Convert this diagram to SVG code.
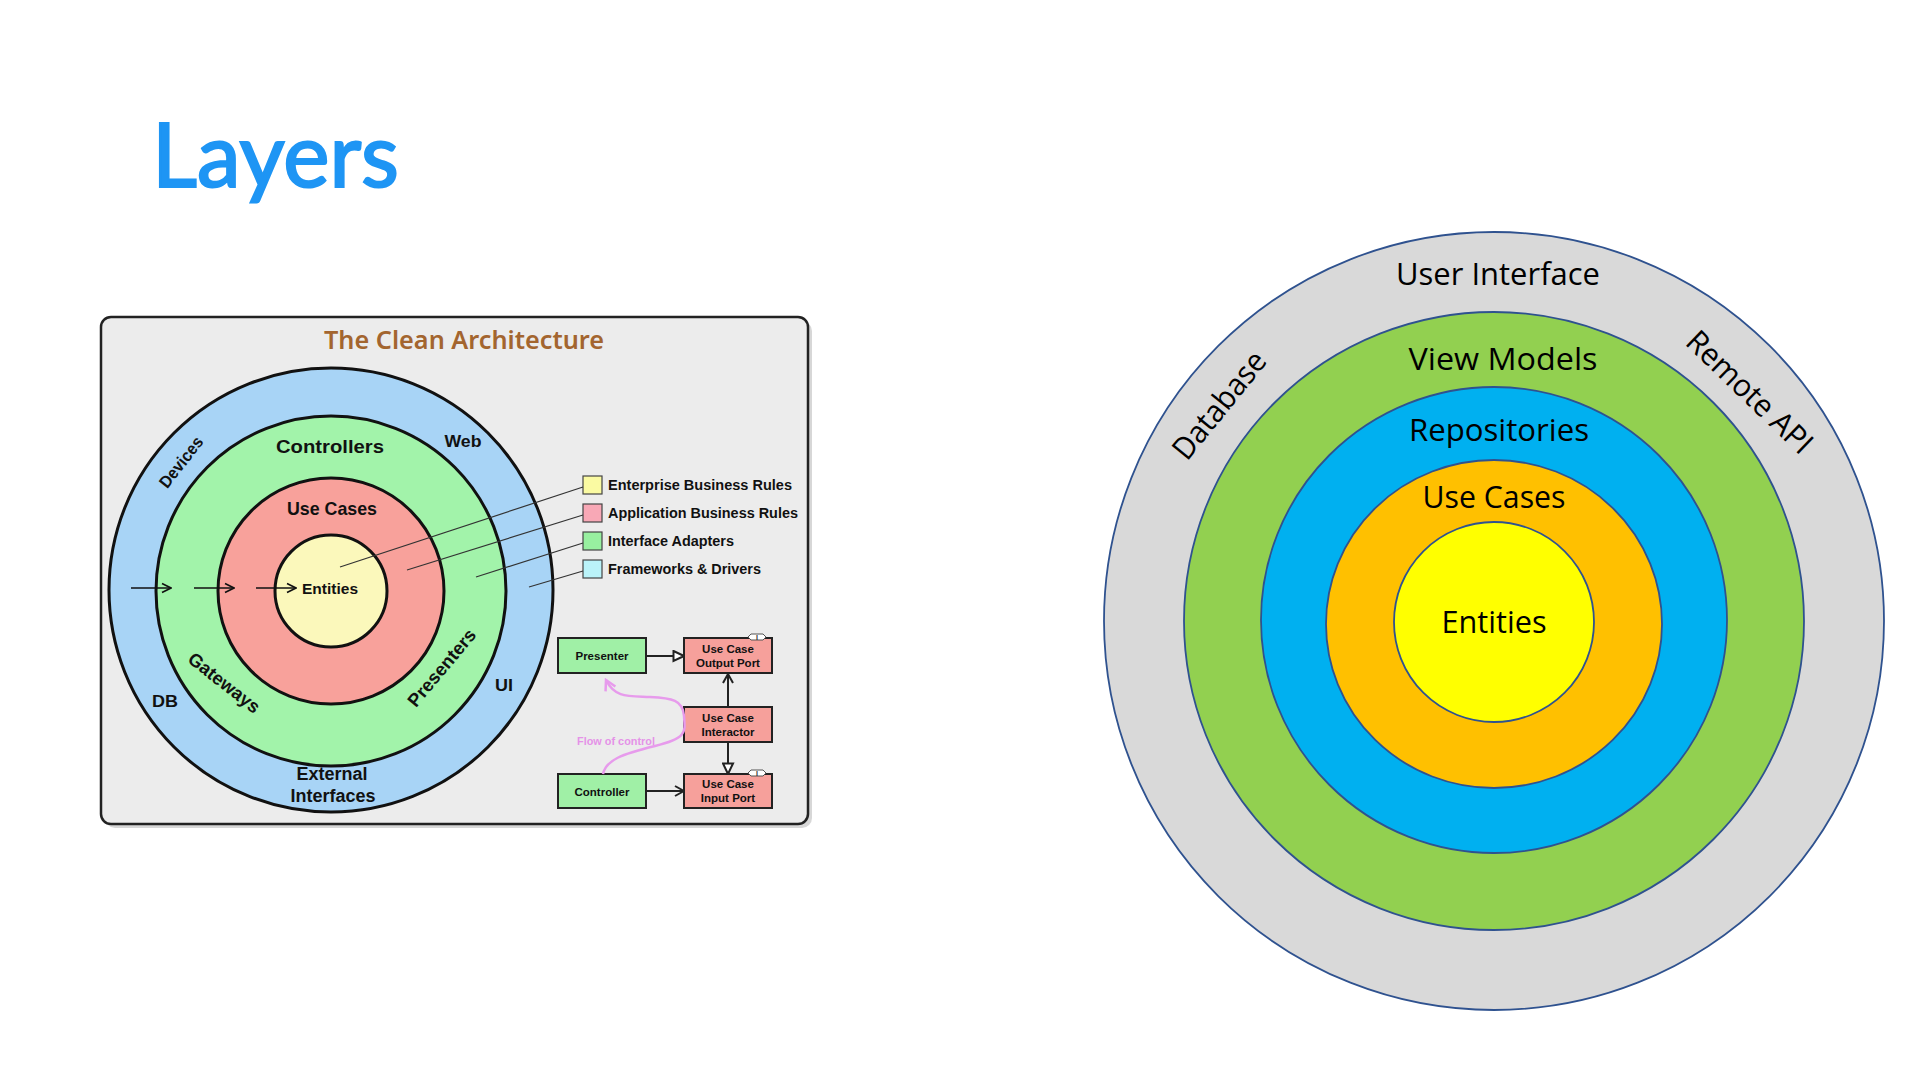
<svg xmlns="http://www.w3.org/2000/svg" width="1920" height="1080" viewBox="0 0 1920 1080">
<style>
.lb{font-family:"Liberation Sans",Arial,sans-serif;font-weight:bold;fill:#111;text-anchor:middle;}
.lg{font-family:"Liberation Sans",Arial,sans-serif;font-weight:bold;fill:#111;font-size:14.5px;}
.bx{font-family:"Liberation Sans",Arial,sans-serif;font-weight:bold;fill:#111;font-size:11.5px;text-anchor:middle;}
.ca{font-family:"Open Sans","Liberation Sans",sans-serif;font-size:31px;fill:#000;text-anchor:middle;}
.ring{stroke:#111;stroke-width:3;}
.ov{stroke:#2f528f;stroke-width:1.8;}
.box{stroke:#222;stroke-width:2;}
.gr{fill:#a0f0a6;}
.rd{fill:#f6a09b;}
.sq{stroke:#444;stroke-width:1.2;}
.lead{stroke:#333;stroke-width:1.2;fill:none;}
.la{stroke:#111;stroke-width:1.6;fill:none;marker-end:url(#openSmall);}
.ma{stroke:#222;stroke-width:2;fill:none;}
.ra{stroke:#000;stroke-width:2.5;fill:none;marker-end:url(#filled);}
</style>
<defs>
<marker id="openSmall" markerUnits="userSpaceOnUse" markerWidth="12" markerHeight="12" viewBox="0 0 12 12" refX="11" refY="6" orient="auto">
<path d="M2,1.5 L11,6 L2,10.5" fill="none" stroke="#111" stroke-width="1.6"/>
</marker>
<marker id="openV" markerUnits="userSpaceOnUse" markerWidth="12" markerHeight="12" viewBox="0 0 12 12" refX="11" refY="6" orient="auto">
<path d="M2,1 L11,6 L2,11" fill="none" stroke="#222" stroke-width="2"/>
</marker>
<marker id="hollow" markerUnits="userSpaceOnUse" markerWidth="13" markerHeight="13" viewBox="0 0 13 13" refX="12" refY="6.5" orient="auto">
<path d="M1.5,1.5 L12,6.5 L1.5,11.5 z" fill="#fff" stroke="#222" stroke-width="2"/>
</marker>
<marker id="pinkV" markerUnits="userSpaceOnUse" markerWidth="14" markerHeight="14" viewBox="0 0 14 14" refX="12" refY="7" orient="auto">
<path d="M2,1.5 L12,7 L2,12.5" fill="none" stroke="#e79bec" stroke-width="2.5"/>
</marker>
<marker id="filled" markerUnits="userSpaceOnUse" markerWidth="13" markerHeight="11" viewBox="0 0 13 11" refX="13" refY="5.5" orient="auto">
<path d="M0,0 L13,5.5 L0,11 z" fill="#000"/>
</marker>
</defs>

<rect x="0" y="0" width="1920" height="1080" fill="#ffffff"/>

<g id="title">
<text x="152" y="187" font-family="Lato,'Open Sans',sans-serif" font-size="90" fill="#1e95f4" stroke="#1e95f4" stroke-width="2.2" textLength="247" lengthAdjust="spacingAndGlyphs">Layers</text>
</g>

<g id="clean-architecture">
<rect x="105" y="321" width="707" height="507" rx="10" fill="#bdbdbd" opacity="0.6"/>
<rect x="101" y="317" width="707" height="507" rx="10" fill="#ececec" stroke="#222" stroke-width="2.5"/>
<text x="464" y="349" font-family="'Noto Sans','Open Sans',sans-serif" font-weight="600" font-size="25" fill="#a3652f" text-anchor="middle" textLength="280" lengthAdjust="spacingAndGlyphs">The Clean Architecture</text>

<g id="ring-frameworks"><circle cx="331" cy="590" r="222" fill="#a8d4f6" class="ring"/></g>
<g id="ring-adapters"><circle cx="331" cy="591" r="175" fill="#a2f3aa" class="ring"/></g>
<g id="ring-usecases"><circle cx="331" cy="591" r="113" fill="#f8a19b" class="ring"/></g>
<g id="ring-entities"><circle cx="331" cy="591" r="56" fill="#fbf8bb" class="ring"/></g>

<text class="lb" x="330" y="453" font-size="18.5" textLength="108" lengthAdjust="spacingAndGlyphs">Controllers</text>
<text class="lb" x="332" y="515" font-size="18.5" textLength="90" lengthAdjust="spacingAndGlyphs">Use Cases</text>
<text class="lb" x="330" y="594" font-size="15.5" textLength="56" lengthAdjust="spacingAndGlyphs">Entities</text>
<text class="lb" x="463" y="447" font-size="17" textLength="37" lengthAdjust="spacingAndGlyphs">Web</text>
<text class="lb" x="165" y="707" font-size="17" textLength="26" lengthAdjust="spacingAndGlyphs">DB</text>
<text class="lb" x="504" y="691" font-size="17" textLength="18" lengthAdjust="spacingAndGlyphs">UI</text>
<text class="lb" x="332" y="780" font-size="18" textLength="71" lengthAdjust="spacingAndGlyphs">External</text>
<text class="lb" x="333" y="802" font-size="18" textLength="85" lengthAdjust="spacingAndGlyphs">Interfaces</text>
<text class="lb" transform="translate(181 462) rotate(-52)" x="0" y="6" font-size="17" textLength="60" lengthAdjust="spacingAndGlyphs">Devices</text>
<text class="lb" transform="translate(224 683) rotate(38)" x="0" y="6" font-size="18.5" textLength="86" lengthAdjust="spacingAndGlyphs">Gateways</text>
<text class="lb" transform="translate(442 668) rotate(-50)" x="0" y="6" font-size="18.5" textLength="95" lengthAdjust="spacingAndGlyphs">Presenters</text>

<g id="legend">
<rect class="sq" x="583" y="476" width="19" height="18" fill="#fafaa2"/>
<rect class="sq" x="583" y="504" width="19" height="18" fill="#f8a8b6"/>
<rect class="sq" x="583" y="532" width="19" height="18" fill="#98f0a0"/>
<rect class="sq" x="583" y="560" width="19" height="18" fill="#baf3f9"/>
<text class="lg" x="608" y="490" textLength="184" lengthAdjust="spacingAndGlyphs">Enterprise Business Rules</text>
<text class="lg" x="608" y="518" textLength="190" lengthAdjust="spacingAndGlyphs">Application Business Rules</text>
<text class="lg" x="608" y="546" textLength="126" lengthAdjust="spacingAndGlyphs">Interface Adapters</text>
<text class="lg" x="608" y="574" textLength="153" lengthAdjust="spacingAndGlyphs">Frameworks &amp; Drivers</text>
</g>

<g id="presenter"><rect class="box gr" x="558" y="638" width="88" height="35"/><text class="bx" x="602" y="660">Presenter</text></g>
<g id="output-port"><rect class="box rd" x="684" y="638" width="88" height="35"/><text class="bx" x="728" y="653">Use Case</text><text class="bx" x="728" y="667">Output Port</text>
<path d="M748,637 l3,-3 h12 l3,3 l-3,3 h-12 z" fill="#fff" stroke="#555" stroke-width="1"/><text x="757" y="640" font-family="'Liberation Sans',sans-serif" font-size="7" font-weight="bold" text-anchor="middle" fill="#333">I</text></g>
<g id="interactor"><rect class="box rd" x="684" y="707" width="88" height="35"/><text class="bx" x="728" y="722">Use Case</text><text class="bx" x="728" y="736">Interactor</text></g>
<g id="controller"><rect class="box gr" x="558" y="774" width="88" height="34"/><text class="bx" x="602" y="796">Controller</text></g>
<g id="input-port"><rect class="box rd" x="684" y="774" width="88" height="34"/><text class="bx" x="728" y="788">Use Case</text><text class="bx" x="728" y="802">Input Port</text>
<path d="M748,773 l3,-3 h12 l3,3 l-3,3 h-12 z" fill="#fff" stroke="#555" stroke-width="1"/><text x="757" y="776" font-family="'Liberation Sans',sans-serif" font-size="7" font-weight="bold" text-anchor="middle" fill="#333">I</text></g>
<text x="616" y="745" font-family="'Liberation Sans',sans-serif" font-weight="bold" font-size="11" fill="#e592e8" text-anchor="middle" textLength="78" lengthAdjust="spacingAndGlyphs">Flow of control</text>
</g>

<g id="connectors">
<path class="la" d="M131,588 H171"/>
<path class="la" d="M194,588 H234"/>
<path class="la" d="M256,588 H296"/>
<path class="lead" d="M583,487 L340,567"/>
<path class="lead" d="M583,515 L407,570"/>
<path class="lead" d="M583,543 L476,577"/>
<path class="lead" d="M583,571 L529,587"/>
<path class="ma" d="M646,656 H684" marker-end="url(#hollow)"/>
<path class="ma" d="M728,707 V674" marker-end="url(#openV)"/>
<path class="ma" d="M728,742 V774" marker-end="url(#hollow)"/>
<path class="ma" d="M646,791 H684" marker-end="url(#openV)"/>
<path d="M603,774 C606,760 622,754 655,746 S685,732 684,716 S672,698 650,697 S615,698 606,680" fill="none" stroke="#e79bec" stroke-width="2.5" marker-end="url(#pinkV)"/>
<path class="ra" d="M1157,611 H1213"/>
<path class="ra" d="M1229,611 H1282"/>
<path class="ra" d="M1299,611 H1352"/>
<path class="ra" d="M1371,611 H1424"/>
</g>

<g id="onion">
<g id="layer-ui"><ellipse class="ov" cx="1494" cy="621" rx="390" ry="389" fill="#d9d9d9"/></g>
<g id="layer-viewmodels"><ellipse class="ov" cx="1494" cy="621" rx="310" ry="309" fill="#92d050"/></g>
<g id="layer-repositories"><ellipse class="ov" cx="1494" cy="620" rx="233" ry="233" fill="#00b0f0"/></g>
<g id="layer-usecases"><ellipse class="ov" cx="1494" cy="624" rx="168" ry="164" fill="#ffc000"/></g>
<g id="layer-entities"><ellipse class="ov" cx="1494" cy="622" rx="100" ry="100" fill="#ffff00"/></g>
<text class="ca" x="1498" y="285" textLength="204" lengthAdjust="spacingAndGlyphs">User Interface</text>
<text class="ca" x="1503" y="370" textLength="189" lengthAdjust="spacingAndGlyphs">View Models</text>
<text class="ca" x="1499" y="441" textLength="180" lengthAdjust="spacingAndGlyphs">Repositories</text>
<text class="ca" x="1494" y="508" textLength="143" lengthAdjust="spacingAndGlyphs">Use Cases</text>
<text class="ca" x="1494" y="633" textLength="105" lengthAdjust="spacingAndGlyphs">Entities</text>
<text class="ca" transform="translate(1219 405) rotate(-51)" x="0" y="11" textLength="129" lengthAdjust="spacingAndGlyphs">Database</text>
<text class="ca" transform="translate(1750 392) rotate(44)" x="0" y="11" textLength="162" lengthAdjust="spacingAndGlyphs">Remote API</text>
</g>
</svg>
